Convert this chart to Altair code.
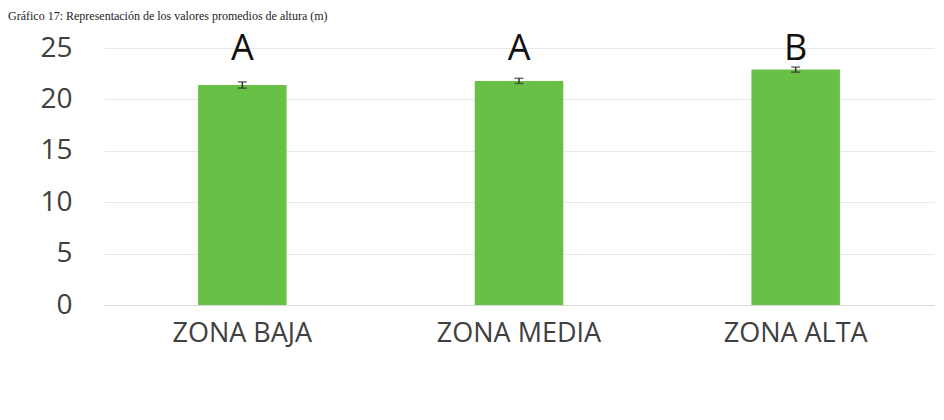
import altair as alt
import pandas as pd

zonas = ["ZONA BAJA", "ZONA MEDIA", "ZONA ALTA"]
promedios = [21.4, 21.8, 22.9]
errores = [0.3, 0.25, 0.25]
letras = ["A", "A", "B"]
y_ticks = [0, 5, 10, 15, 20, 25]
titulo = "Gráfico 17: Representación de los valores promedios de altura (m)"

df = pd.DataFrame({
    "zona": zonas,
    "media": promedios,
    "err": errores,
    "letra": letras,
})

FONT = "Open Sans"

base = alt.Chart(df).encode(
    x=alt.X("zona:N", sort=zonas, title=None,
            scale=alt.Scale(paddingInner=0.68, paddingOuter=0.34),
            axis=alt.Axis(labelAngle=0, labelFont=FONT, labelFontSize=27,
                          labelColor="#404040", labelPadding=15, ticks=False,
                          domain=True, domainColor="#d9d9d9", grid=False))
)

bars = base.mark_bar(color="#68c146").encode(
    y=alt.Y("media:Q", title=None,
            scale=alt.Scale(domain=[0, 25], nice=False),
            axis=alt.Axis(values=y_ticks, labelFont=FONT, labelFontSize=28,
                          labelColor="#404040", labelPadding=32, ticks=False,
                          domain=False, grid=True, gridColor="#e8e8e8",
                          gridWidth=1))
)

err = base.transform_calculate(
    lo="datum.media - datum.err", hi="datum.media + datum.err"
)
rule = err.mark_rule(color="#333333", strokeWidth=1.5).encode(
    y="lo:Q", y2="hi:Q")
cap_lo = err.mark_tick(color="#333333", size=9, thickness=1.5,
                       orient="horizontal").encode(y="lo:Q")
cap_hi = err.mark_tick(color="#333333", size=9, thickness=1.5,
                       orient="horizontal").encode(y="hi:Q")

letters = base.mark_text(font=FONT, fontSize=36, color="#111111",
                         baseline="alphabetic").encode(
    y=alt.value(12), text="letra:N")

title_text = alt.Chart(pd.DataFrame({"t": [titulo]})).mark_text(
    font="Liberation Serif", fontSize=12, color="#222222",
    align="left", baseline="bottom").encode(
    x=alt.value(-96), y=alt.value(-25), text="t:N")

chart = alt.layer(bars, rule, cap_lo, cap_hi, letters, title_text).properties(
    width=830, height=257,
    autosize=alt.AutoSizeParams(type="none"),
    padding={"left": 96, "top": 40, "right": 2, "bottom": 100},
).configure_view(stroke=None)

chart.save("out.html", embed_options={"renderer": "svg", "actions": False})
